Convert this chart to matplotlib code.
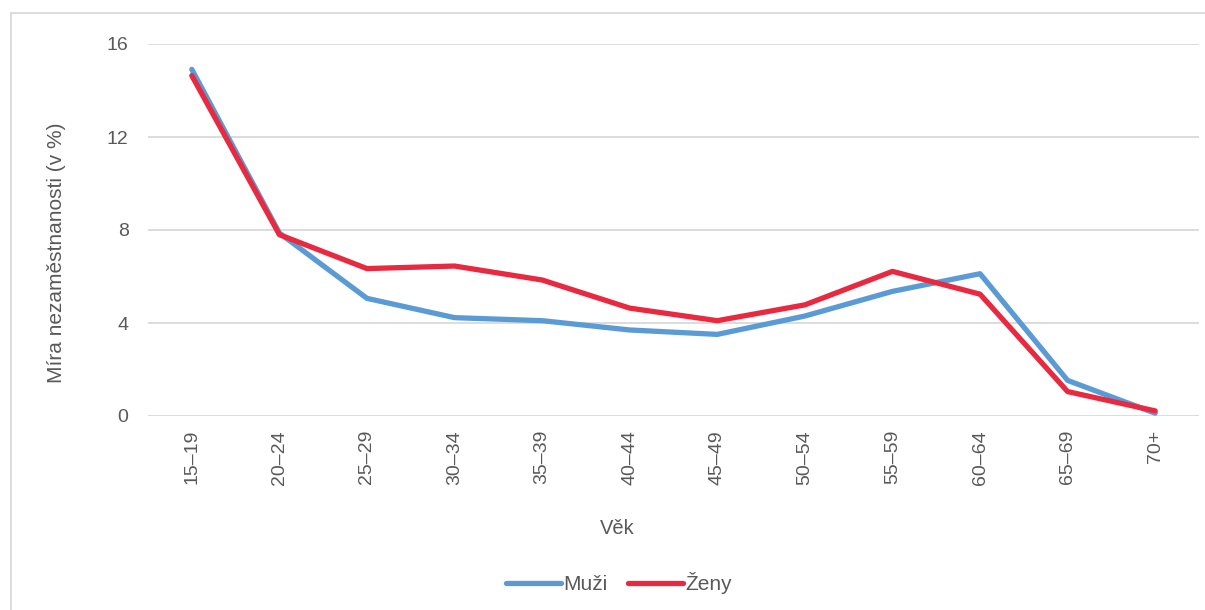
import matplotlib
matplotlib.use("Agg")
import matplotlib.pyplot as plt
from matplotlib.lines import Line2D

plt.rcParams['font.family'] = ['Liberation Sans', 'DejaVu Sans']

categories = ["15–19", "20–24", "25–29", "30–34", "35–39", "40–44",
              "45–49", "50–54", "55–59", "60–64", "65–69", "70+"]
muzi = [14.91, 7.87, 5.06, 4.23, 4.10, 3.70, 3.51, 4.30, 5.36, 6.12, 1.53, 0.12]
zeny = [14.64, 7.80, 6.34, 6.45, 5.85, 4.64, 4.10, 4.78, 6.22, 5.24, 1.05, 0.22]
series_names = ["Muži", "Ženy"]
yticks = [0, 4, 8, 12, 16]

W, H = 1205, 610
fig = plt.figure(figsize=(W / 100, H / 100), dpi=100)
ax = fig.add_axes([148 / W, 1 - 416 / H, (1199 - 148) / W, (416 - 44) / H])

text_color = "#595959"
grid_color = "#d9d9d9"

x = list(range(len(categories)))
ax.plot(x, muzi, color="#5b9bd5", lw=3.8, solid_capstyle="round", label=series_names[0], zorder=3)
ax.plot(x, zeny, color="#e8293f", lw=3.8, solid_capstyle="round", label=series_names[1], zorder=4)

ax.set_xlim(-0.5, len(categories) - 0.5)
ax.set_ylim(0, 16)
ax.set_yticks(yticks)
ax.set_yticklabels([str(v) for v in yticks])
ax.set_xticks(x)
ax.set_xticklabels(categories, rotation=90)
ax.grid(axis="y", color=grid_color, lw=1.3)
ax.set_axisbelow(True)
for s in ax.spines.values():
    s.set_visible(False)
ax.tick_params(axis="both", length=0, labelsize=14, colors=text_color)
ax.tick_params(axis="y", pad=14)
ax.tick_params(axis="x", pad=10)

fig.text(57 / W, 1 - 253 / H, "Míra nezaměstnanosti (v %)", rotation=90,
         ha="center", va="center", fontsize=15, color=text_color)
fig.text(617 / W, 1 - 529 / H, "Věk", ha="center", va="center",
         fontsize=14.5, color=text_color)

leg = fig.legend(loc="center", bbox_to_anchor=(619 / W, 1 - 583 / H), ncol=2,
                 frameon=False, fontsize=15, handlelength=2.65, handletextpad=0.1,
                 columnspacing=1.0, labelcolor=text_color)

# chart-area frame (only top and left edges fall inside the image)
fy = 1 - 13 / H
fx = 11 / W
fig.add_artist(Line2D([fx, 1.0], [fy, fy], transform=fig.transFigure,
                      color="#d9d9d9", lw=1.3))
fig.add_artist(Line2D([fx, fx], [0.0, fy], transform=fig.transFigure,
                      color="#d9d9d9", lw=1.3))

fig.savefig("out.png", dpi=100)
